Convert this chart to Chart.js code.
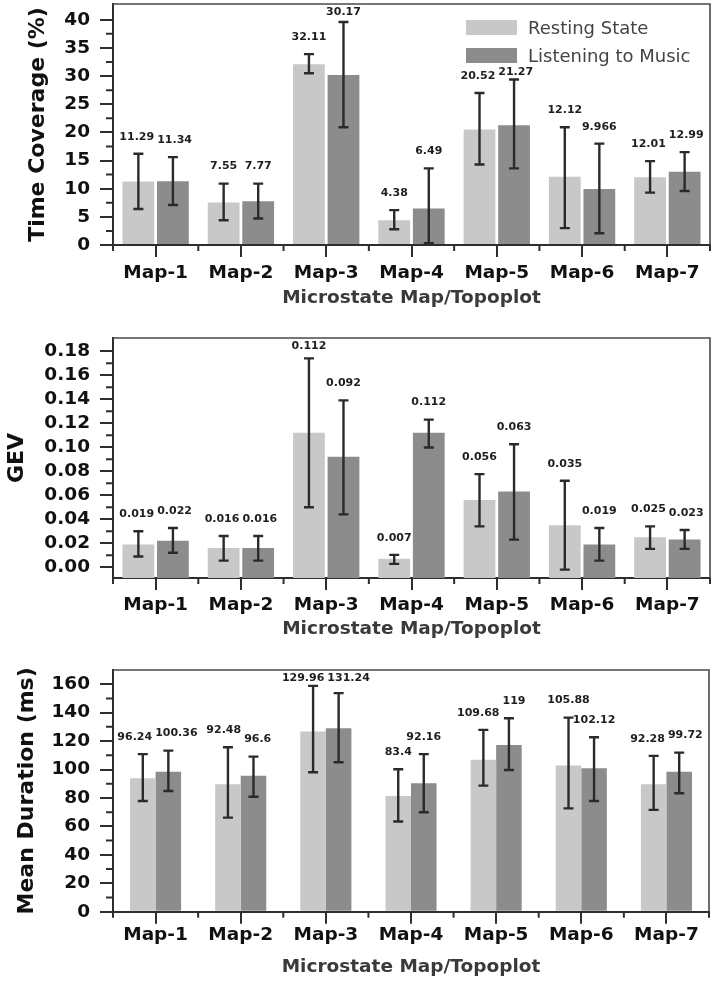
<!DOCTYPE html>
<html>
<head>
<meta charset="utf-8">
<script src="https://cdn.jsdelivr.net/npm/chart.js@4.4.1/dist/chart.umd.min.js"></script>
<style>
  html, body { margin: 0; padding: 0; background: #ffffff; }
  #wrap { position: relative; width: 715px; height: 983px; overflow: hidden; }
  .panel { position: absolute; left: 0; width: 715px; }
  canvas { display: block; }
</style>
</head>
<body>
<div id="wrap">
  <div class="panel" style="top:0px;height:318px"><canvas id="c1" width="715" height="318"></canvas></div>
  <div class="panel" style="top:318px;height:327px"><canvas id="c2" width="715" height="327"></canvas></div>
  <div class="panel" style="top:645px;height:338px"><canvas id="c3" width="715" height="338"></canvas></div>
</div>
<script>
// ---------------- DATA ----------------
const categories = ['Map-1', 'Map-2', 'Map-3', 'Map-4', 'Map-5', 'Map-6', 'Map-7'];
const seriesNames = ['Resting State', 'Listening to Music'];
const xAxisTitle = 'Microstate Map/Topoplot';

// Panel 1: Time Coverage (%)
const tcRest = [11.29, 7.55, 32.11, 4.38, 20.52, 12.12, 12.01];
const tcMusic = [11.34, 7.77, 30.17, 6.49, 21.27, 9.966, 12.99];
const tcRestHigh = [16.2, 10.9, 33.9, 6.2, 27.0, 20.9, 14.9];
const tcRestLow = [6.4, 4.4, 30.5, 2.8, 14.3, 3.0, 9.3];
const tcMusicHigh = [15.6, 10.9, 39.6, 13.6, 29.4, 18.0, 16.5];
const tcMusicLow = [7.1, 4.7, 20.9, 0.3, 13.6, 2.1, 9.6];
const tcTicks = [0, 5, 10, 15, 20, 25, 30, 35, 40];

// Panel 2: GEV
const gevRest = [0.019, 0.016, 0.112, 0.007, 0.056, 0.035, 0.025];
const gevMusic = [0.022, 0.016, 0.092, 0.112, 0.063, 0.019, 0.023];
const gevRestHigh = [0.030, 0.026, 0.174, 0.0103, 0.0776, 0.072, 0.034];
const gevRestLow = [0.0089, 0.0055, 0.050, 0.0028, 0.034, -0.002, 0.0153];
const gevMusicHigh = [0.0327, 0.026, 0.139, 0.123, 0.1025, 0.0327, 0.031];
const gevMusicLow = [0.012, 0.0055, 0.044, 0.0997, 0.023, 0.0055, 0.0153];
const gevTicks = ['0.00', '0.02', '0.04', '0.06', '0.08', '0.10', '0.12', '0.14', '0.16', '0.18'];

// Panel 3: Mean Duration (ms)
const mdRest = [93.9, 89.6, 126.7, 81.4, 106.8, 102.8, 89.6];
const mdMusic = [98.5, 95.7, 129.0, 90.4, 117.3, 100.9, 98.5];
const mdRestLabels = ['96.24', '92.48', '129.96', '83.4', '109.68', '105.88', '92.28'];
const mdMusicLabels = ['100.36', '96.6', '131.24', '92.16', '119', '102.12', '99.72'];
const mdRestHigh = [110.8, 115.7, 158.8, 100.2, 127.9, 136.5, 109.6];
const mdRestLow = [77.9, 66.2, 98.1, 63.4, 88.7, 72.7, 71.6];
const mdMusicHigh = [113.3, 109.1, 153.7, 110.8, 136.1, 122.7, 111.9];
const mdMusicLow = [84.9, 80.9, 105.1, 70.0, 99.7, 77.9, 83.3];
const mdTicks = [0, 20, 40, 60, 80, 100, 120, 140, 160];

// ---------------- STYLE ----------------
const FONT = 'DejaVu Sans';
const LIGHT = '#c8c8c8';
const DARK = '#8c8c8c';
const AXIS = '#2e2e2e';
Chart.defaults.font.family = FONT;

function legendBox(area) {
  const lx = area.right - 244;
  return { x: lx, y: area.top + 16, w: 236, h: 44 };
}

const extrasPlugin = {
  id: 'extras',
  afterDatasetsDraw(chart, args, opts) {
    const ctx = chart.ctx;
    const ys = chart.scales.y;
    const area = chart.chartArea;
    ctx.save();
    // error bars
    ctx.strokeStyle = '#2a2a2a';
    ctx.lineWidth = 2.4;
    chart.data.datasets.forEach((ds, i) => {
      const meta = chart.getDatasetMeta(i);
      meta.data.forEach((el, j) => {
        const yh = ys.getPixelForValue(ds.errHigh[j]);
        const yl = ys.getPixelForValue(ds.errLow[j]);
        const x = el.x;
        ctx.beginPath();
        ctx.moveTo(x, yh); ctx.lineTo(x, yl);
        ctx.moveTo(x - 5, yh); ctx.lineTo(x + 5, yh);
        ctx.moveTo(x - 5, yl); ctx.lineTo(x + 5, yl);
        ctx.stroke();
      });
    });
    // value labels (placed above error bars, nudged apart if they collide)
    ctx.fillStyle = '#1e1e1e';
    ctx.font = 'bold 11px "' + FONT + '"';
    ctx.textAlign = 'center';
    ctx.textBaseline = 'middle';
    const dsA = chart.data.datasets[0], dsB = chart.data.datasets[1];
    const mA = chart.getDatasetMeta(0), mB = chart.getDatasetMeta(1);
    const lb = opts.legend ? legendBox(area) : null;
    for (let j = 0; j < chart.data.labels.length; j++) {
      const items = [
        { t: dsA.valueLabels[j], x: mA.data[j].x, y: ys.getPixelForValue(dsA.errHigh[j]) - 17 },
        { t: dsB.valueLabels[j], x: mB.data[j].x, y: ys.getPixelForValue(dsB.errHigh[j]) - 17 }
      ];
      items.forEach(it => {
        it.w = ctx.measureText(it.t).width;
        if (it.y < area.top + 8) it.y = area.top + 8;
        if (lb && it.x + it.w / 2 > lb.x && it.x - it.w / 2 < lb.x + lb.w &&
            it.y + 6 > lb.y && it.y - 6 < lb.y + lb.h) {
          it.y = lb.y + lb.h + 8;
        }
      });
      const a = items[0], b = items[1];
      if (Math.abs(a.y - b.y) < 12) {
        const ov = (a.w + b.w) / 2 + 3 - (b.x - a.x);
        if (ov > 0) { a.x -= ov / 2; b.x += ov / 2; }
      }
      items.forEach(it => ctx.fillText(it.t, it.x, it.y));
    }
    ctx.restore();
  },
  afterDraw(chart, args, opts) {
    const ctx = chart.ctx;
    const ys = chart.scales.y, xs = chart.scales.x;
    const area = chart.chartArea;
    ctx.save();
    // top & right frame
    ctx.strokeStyle = '#4a4a4a';
    ctx.lineWidth = 1.6;
    ctx.beginPath();
    ctx.moveTo(area.left, area.top);
    ctx.lineTo(area.right, area.top);
    ctx.lineTo(area.right, area.bottom);
    ctx.stroke();
    // minor ticks
    ctx.strokeStyle = AXIS;
    ctx.lineWidth = 2;
    ctx.beginPath();
    const step = opts.minorStep;
    for (let k = 0; ; k++) {
      const v = step * (k + 0.5);
      if (v > ys.max) break;
      const py = ys.getPixelForValue(v);
      if (py < area.top + 3) break;
      ctx.moveTo(area.left - 7, py); ctx.lineTo(area.left, py);
    }
    for (let i = 0; i <= chart.data.labels.length; i++) {
      const px = xs.getPixelForValue(i - 0.5);
      ctx.moveTo(px, area.bottom); ctx.lineTo(px, area.bottom + 6);
    }
    ctx.stroke();
    // legend
    if (opts.legend) {
      const lb = legendBox(area);
      ctx.font = '18px "' + FONT + '"';
      ctx.textAlign = 'left';
      ctx.textBaseline = 'middle';
      const rows = [{c: LIGHT, t: seriesNames[0], y: lb.y},
                    {c: DARK, t: seriesNames[1], y: lb.y + 28}];
      rows.forEach(r => {
        ctx.fillStyle = r.c;
        ctx.fillRect(lb.x, r.y, 51, 15);
        ctx.fillStyle = '#444444';
        ctx.fillText(r.t, lb.x + 62, r.y + 9);
      });
    }
    ctx.restore();
  }
};

function makePanel(id, cfg) {
  const H = document.getElementById(id).height;
  new Chart(document.getElementById(id), {
    type: 'bar',
    data: {
      labels: categories,
      datasets: [
        { label: seriesNames[0], data: cfg.rest, backgroundColor: LIGHT, borderWidth: 0,
          errHigh: cfg.restHigh, errLow: cfg.restLow, valueLabels: cfg.restLabels,
          base: cfg.min, barPercentage: cfg.barPct, categoryPercentage: cfg.catPct },
        { label: seriesNames[1], data: cfg.music, backgroundColor: DARK, borderWidth: 0,
          errHigh: cfg.musicHigh, errLow: cfg.musicLow, valueLabels: cfg.musicLabels,
          base: cfg.min, barPercentage: cfg.barPct, categoryPercentage: cfg.catPct }
      ]
    },
    options: {
      responsive: false,
      animation: false,
      devicePixelRatio: 1,
      layout: { padding: { left: 0, right: cfg.padRight, top: cfg.padTop, bottom: 0 } },
      plugins: {
        legend: { display: false },
        tooltip: { enabled: false },
        extras: { minorStep: cfg.step, legend: cfg.legend }
      },
      scales: {
        x: {
          type: 'category',
          offset: true,
          grid: { display: true, drawOnChartArea: false, drawTicks: true, tickLength: 12,
                  lineWidth: 2, color: AXIS, offset: false },
          border: { display: true, color: AXIS, width: 2 },
          ticks: { color: '#111', font: { size: 18.5, weight: 'bold' }, padding: cfg.xTickPad,
                   maxRotation: 0, autoSkip: false },
          title: { display: true, text: xAxisTitle, color: '#3a3a3a',
                   font: { size: 18.5, weight: 'bold' }, padding: { top: 0, bottom: cfg.xTitlePad } },
          afterFit: (s) => { s.height = H - cfg.plotBottom; s.paddingLeft = 0; s.paddingRight = 0; }
        },
        y: {
          type: 'linear',
          min: cfg.min,
          max: cfg.max,
          grid: { display: true, drawOnChartArea: false, drawTicks: true, tickLength: 13,
                  lineWidth: 2, color: AXIS },
          border: { display: true, color: AXIS, width: 2 },
          afterBuildTicks: (s) => { s.ticks = cfg.ticks.map(v => ({ value: Number(v) })); },
          ticks: { color: '#111', font: { size: 18.5, weight: 'bold' }, padding: 10,
                   callback: (v, i) => String(cfg.ticks[i]) },
          title: { display: true, text: cfg.yTitle, color: '#111',
                   font: { size: 22, weight: 'bold' }, padding: { top: cfg.yTitlePad, bottom: 0 } },
          afterFit: (s) => { s.width = 113; s.paddingTop = 0; s.paddingBottom = 0; }
        }
      }
    },
    plugins: [extrasPlugin]
  });
}

makePanel('c1', {
  rest: tcRest, music: tcMusic,
  restHigh: tcRestHigh, restLow: tcRestLow, musicHigh: tcMusicHigh, musicLow: tcMusicLow,
  restLabels: tcRest.map(String), musicLabels: tcMusic.map(String),
  ticks: tcTicks, min: 0, max: 42.8, step: 5,
  yTitle: 'Time Coverage (%)', yTitlePad: 25,
  padTop: 4, padRight: 5, plotBottom: 245, xTickPad: 5, xTitlePad: 8.5,
  barPct: 0.92, catPct: 0.81, legend: true
});

makePanel('c2', {
  rest: gevRest, music: gevMusic,
  restHigh: gevRestHigh, restLow: gevRestLow, musicHigh: gevMusicHigh, musicLow: gevMusicLow,
  restLabels: gevRest.map(String), musicLabels: gevMusic.map(String),
  ticks: gevTicks, min: -0.009, max: 0.191, step: 0.02,
  yTitle: 'GEV', yTitlePad: 4,
  padTop: 20, padRight: 5, plotBottom: 260, xTickPad: 4, xTitlePad: 5,
  barPct: 0.92, catPct: 0.81, legend: false
});

makePanel('c3', {
  rest: mdRest, music: mdMusic,
  restHigh: mdRestHigh, restLow: mdRestLow, musicHigh: mdMusicHigh, musicLow: mdMusicLow,
  restLabels: mdRestLabels, musicLabels: mdMusicLabels,
  ticks: mdTicks, min: 0, max: 170, step: 20,
  yTitle: 'Mean Duration (ms)', yTitlePad: 14,
  padTop: 25, padRight: 6, plotBottom: 266.7, xTickPad: 0.5, xTitlePad: 5,
  barPct: 1.0, catPct: 0.6, legend: false
});
</script>
</body>
</html>
